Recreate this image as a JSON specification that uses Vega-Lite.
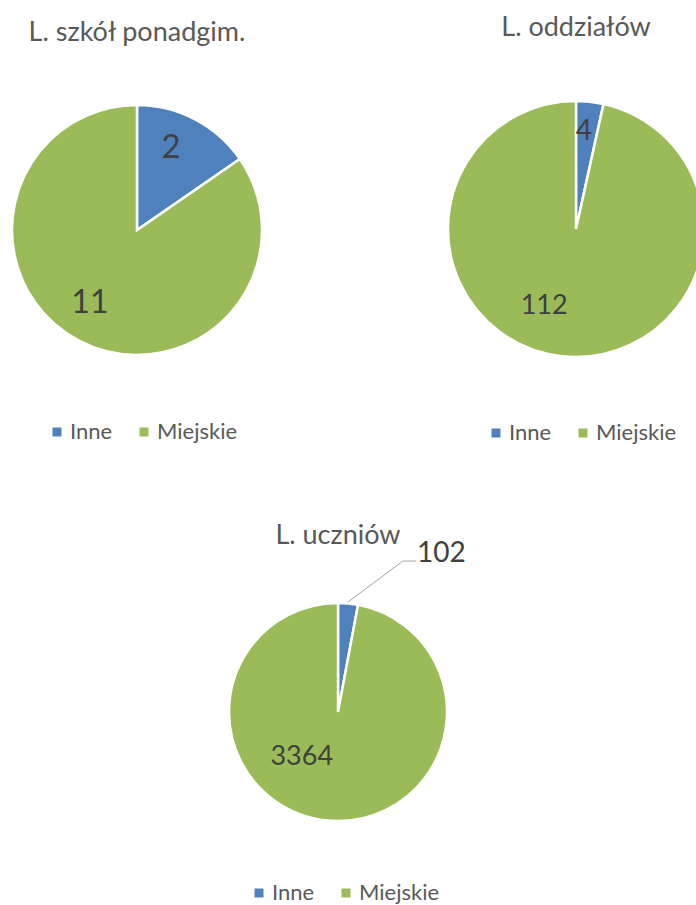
{
  "$schema": "https://vega.github.io/schema/vega-lite/v6.json",
  "background": "white",
  "padding": {"left": 7, "top": 14, "right": 0, "bottom": 0},
  "config": {
    "view": {"stroke": null},
    "font": "Lato",
    "title": {"fontSize": 27, "fontWeight": "normal", "color": "#595959", "font": "Lato", "baseline": "alphabetic"},
    "legend": {
      "orient": "none",
      "direction": "horizontal",
      "symbolType": "square",
      "symbolSize": 81,
      "symbolStrokeWidth": 0,
      "labelFontSize": 22,
      "labelFont": "Lato",
      "labelColor": "#595959",
      "columnPadding": 20,
      "labelOffset": 2,
      "padding": 0,
      "title": null
    }
  },
  "datasets": {
    "szkoly": [{"kategoria": "Inne", "wartosc": 2}, {"kategoria": "Miejskie", "wartosc": 11}],
    "oddzialy": [{"kategoria": "Inne", "wartosc": 4}, {"kategoria": "Miejskie", "wartosc": 112}],
    "uczniowie": [{"kategoria": "Inne", "wartosc": 102}, {"kategoria": "Miejskie", "wartosc": 3364}],
    "linia": [{"k": 1, "lx": 0.092, "ly": 1.009}, {"k": 2, "lx": 0.596, "ly": 1.385}, {"k": 3, "lx": 0.716, "ly": 1.385}]
  },
  "vconcat": [
    {
      "hconcat": [
        {
          "width": 250,
          "height": 260,
          "title": {"text": "L. szkół ponadgim.", "offset": 53},
          "data": {"name": "szkoly"},
          "layer": [
            {
              "mark": {"type": "arc", "radius": 125, "stroke": "white", "strokeWidth": 2.5},
              "encoding": {
                "theta": {"field": "wartosc", "type": "quantitative", "stack": true},
                "order": {"field": "kategoria", "sort": "ascending"},
                "color": {"field": "kategoria", "type": "nominal", "scale": {"domain": ["Inne", "Miejskie"], "range": ["#4F81BD", "#9BBB59"]}, "legend": {"legendX": 34, "legendY": 321}}
              }
            },
            {
              "transform": [{"stack": "wartosc", "groupby": [], "sort": [{"field": "kategoria", "order": "ascending"}], "as": ["t0", "t1"]}, {"filter": "datum.kategoria === 'Inne'"}],
              "mark": {"type": "text", "radius": 89, "thetaOffset": 0.393, "fontSize": 33, "color": "#404040"},
              "encoding": {"theta": {"field": "t0", "type": "quantitative", "stack": null}, "text": {"field": "wartosc", "type": "quantitative", "format": "d"}}
            },
            {
              "transform": [{"stack": "wartosc", "groupby": [], "sort": [{"field": "kategoria", "order": "ascending"}], "as": ["t0", "t1"]}, {"filter": "datum.kategoria === 'Miejskie'"}],
              "mark": {"type": "text", "radius": 87, "thetaOffset": 2.747, "fontSize": 32, "color": "#404040"},
              "encoding": {"theta": {"field": "t0", "type": "quantitative", "stack": null}, "text": {"field": "wartosc", "type": "quantitative", "format": "d"}}
            }
          ]
        },
        {
          "width": 256,
          "height": 258,
          "title": {"text": "L. oddziałów", "offset": 54},
          "data": {"name": "oddzialy"},
          "layer": [
            {
              "mark": {"type": "arc", "radius": 128, "stroke": "white", "strokeWidth": 2.5},
              "encoding": {
                "theta": {"field": "wartosc", "type": "quantitative", "stack": true},
                "order": {"field": "kategoria", "sort": "ascending"},
                "color": {"field": "kategoria", "type": "nominal", "scale": {"domain": ["Inne", "Miejskie"], "range": ["#4F81BD", "#9BBB59"]}, "legend": {"legendX": 37, "legendY": 322}}
              }
            },
            {
              "transform": [{"stack": "wartosc", "groupby": [], "sort": [{"field": "kategoria", "order": "ascending"}], "as": ["t0", "t1"]}, {"filter": "datum.kategoria === 'Inne'"}],
              "mark": {"type": "text", "radius": 97, "thetaOffset": 0.082, "fontSize": 28, "color": "#404040"},
              "encoding": {"theta": {"field": "t0", "type": "quantitative", "stack": null}, "text": {"field": "wartosc", "type": "quantitative", "format": "d"}}
            },
            {
              "transform": [{"stack": "wartosc", "groupby": [], "sort": [{"field": "kategoria", "order": "ascending"}], "as": ["t0", "t1"]}, {"filter": "datum.kategoria === 'Miejskie'"}],
              "mark": {"type": "text", "radius": 83, "thetaOffset": 3.319, "fontSize": 27, "color": "#404040"},
              "encoding": {"theta": {"field": "t0", "type": "quantitative", "stack": null}, "text": {"field": "wartosc", "type": "quantitative", "format": "d"}}
            }
          ]
        }
      ],
      "spacing": 176,
      "resolve": {"scale": {"color": "independent", "theta": "independent"}, "legend": {"color": "independent"}}
    },
    {
      "width": 652,
      "height": 218,
      "title": {"text": "L. uczniów", "offset": -10},
      "data": {"name": "uczniowie"},
      "layer": [
        {
          "mark": {"type": "arc", "radius": 109, "stroke": "white", "strokeWidth": 2.5},
          "encoding": {
            "theta": {"field": "wartosc", "type": "quantitative", "stack": true},
            "order": {"field": "kategoria", "sort": "ascending"},
            "color": {"field": "kategoria", "type": "nominal", "scale": {"domain": ["Inne", "Miejskie"], "range": ["#4F81BD", "#9BBB59"]}, "legend": {"legendX": 236, "legendY": 279}}
          }
        },
        {
          "transform": [{"stack": "wartosc", "groupby": [], "sort": [{"field": "kategoria", "order": "ascending"}], "as": ["t0", "t1"]}, {"filter": "datum.kategoria === 'Inne'"}],
          "mark": {"type": "text", "radius": 189, "thetaOffset": 0.578, "fontSize": 28, "color": "#404040"},
          "encoding": {"theta": {"field": "t0", "type": "quantitative", "stack": null}, "text": {"field": "wartosc", "type": "quantitative", "format": "d"}}
        },
        {
          "transform": [{"stack": "wartosc", "groupby": [], "sort": [{"field": "kategoria", "order": "ascending"}], "as": ["t0", "t1"]}, {"filter": "datum.kategoria === 'Miejskie'"}],
          "mark": {"type": "text", "radius": 58, "thetaOffset": 3.632, "fontSize": 27, "color": "#404040"},
          "encoding": {"theta": {"field": "t0", "type": "quantitative", "stack": null}, "text": {"field": "wartosc", "type": "quantitative", "format": "d"}}
        },
        {
          "data": {"name": "linia"},
          "mark": {"type": "line", "color": "#A6A6A6", "strokeWidth": 1},
          "encoding": {
            "x": {"field": "lx", "type": "quantitative", "scale": {"domain": [-2.991, 2.991]}, "axis": null},
            "y": {"field": "ly", "type": "quantitative", "scale": {"domain": [-1, 1]}, "axis": null},
            "order": {"field": "k", "type": "quantitative"}
          }
        }
      ]
    }
  ],
  "spacing": 77,
  "resolve": {"scale": {"color": "independent", "theta": "independent"}, "legend": {"color": "independent"}}
}
